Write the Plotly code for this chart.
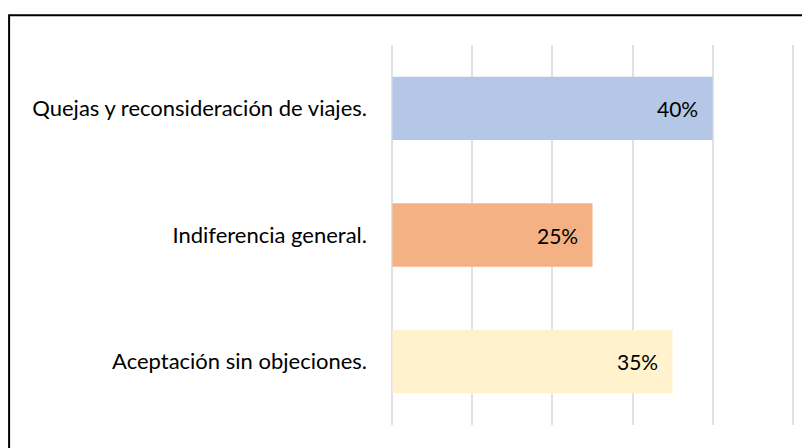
import plotly.graph_objects as go

categories = ["Quejas y reconsideración de viajes.", "Indiferencia general.", "Aceptación sin objeciones."]
values = [0.40, 0.25, 0.35]
labels = ["40%", "25%", "35%"]
colors = ["#B4C7E7", "#F4B183", "#FFF2CC"]

FONT = "Lato, Calibri, sans-serif"

fig = go.Figure(go.Bar(
    x=values, y=categories, orientation="h",
    marker=dict(color=colors, line=dict(width=0)),
    hoverinfo="skip",
))

# data labels, inside end of each bar
for cat, v, lab in zip(categories, values, labels):
    fig.add_annotation(x=v, y=cat, text=lab, showarrow=False,
                       xanchor="right", xshift=-13,
                       font=dict(family=FONT, size=21, color="#000000"))

# outer chart border (page is offset by the 8px body margin)
fig.add_shape(type="rect", xref="paper", yref="paper",
              x0=-0.9405, x1=1.2, y0=-0.2, y1=1.078,
              line=dict(color="#000000", width=2), layer="below")

fig.update_layout(
    width=810, height=448,
    margin=dict(l=382, r=23, t=37, b=31),
    paper_bgcolor="white", plot_bgcolor="white",
    bargap=0.5, showlegend=False,
    font=dict(family=FONT, size=22, color="#000000"),
)
fig.update_xaxes(range=[-0.003, 0.503], dtick=0.1, showticklabels=False,
                 showgrid=True, gridcolor="#DDE1E8", gridwidth=2,
                 zeroline=False, showline=False, fixedrange=True)
fig.update_yaxes(autorange="reversed", showgrid=False, showline=False,
                 ticks="", ticklabelstandoff=22, fixedrange=True)

fig.write_html("out.html")
